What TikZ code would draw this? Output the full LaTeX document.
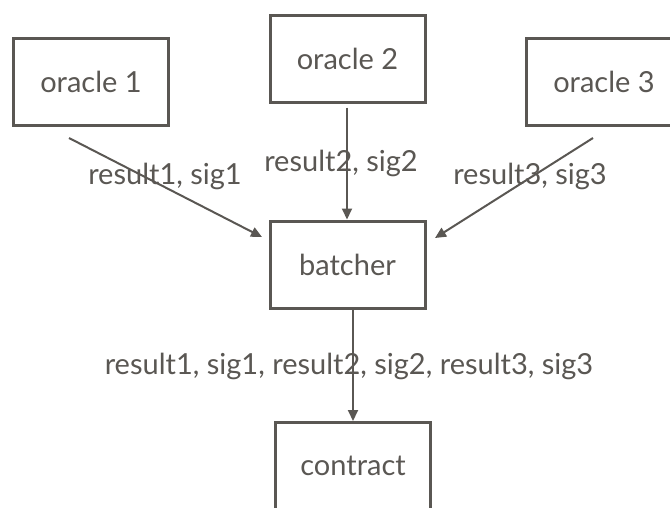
\documentclass[tikz,border=0pt]{standalone}
\usepackage{fontspec}
\setmainfont{Lato}
\usetikzlibrary{arrows.meta}
\definecolor{ink}{HTML}{5A5753}
\begin{document}
\begin{tikzpicture}[x=1pt,y=-1pt,
  box/.style={draw=ink,line width=3pt,minimum width=155pt,minimum height=87pt,inner sep=0pt,text=ink,font=\fontsize{29}{32}\selectfont},
  lbl/.style={text=ink,font=\fontsize{29}{32}\selectfont,inner sep=0pt},
  conn/.style={draw=ink,line width=2pt,-{Triangle[length=11pt,width=10pt]}}]
\useasboundingbox (0,0) rectangle (670,507);
\begin{scope}
\clip (0,0) rectangle (670,507);
\node[box] (o1) at (91,82) {oracle 1};
\node[box] (o2) at (347.5,58.5) {oracle 2};
\node[box] (o3) at (604,82) {oracle 3};
\node[box] (b) at (347.5,264.5) {batcher};
\node[box] (c) at (353,466) {contract};
\end{scope}
\coordinate (s1) at (69,138);
\coordinate (e1) at (262,237);
\coordinate (s3) at (593,138);
\coordinate (e3) at (435,238);
\draw[conn] (s1) -- (e1);
\draw[conn] (s3) -- (e3);
\draw[conn] (o2.south -| 347,0) ++(0,4) -- (b.north -| 347,0);
\draw[conn] (b.south -| 353,0) -- (c.north -| 353,0);
\node[lbl] (l1) at (165,176) {result1, sig1};
\node[lbl] (l2) at (341,163) {result2, sig2};
\node[lbl] (l3) at (530,176) {result3, sig3};
\node[lbl] (l4) at (349,366) {result1, sig1, result2, sig2, result3, sig3};
\end{tikzpicture}
\end{document}
